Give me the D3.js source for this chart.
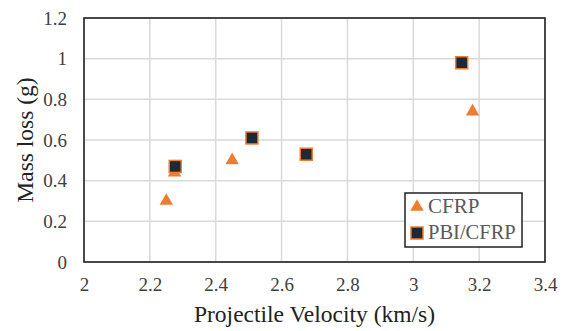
<!DOCTYPE html>
<meta charset="utf-8">
<script src="https://d3js.org/d3.v7.min.js"></script>
<style>
  body { margin: 0; background: #fff; }
  text { font-family: "Liberation Serif", "Times New Roman", serif; }
</style>
<div id="chart"></div>
<script>
// data
var cfrpX = [2.25, 2.275, 2.45, 3.18];
var cfrpY = [0.30, 0.44, 0.50, 0.74];
var pbiX = [2.277, 2.51, 2.675, 3.147];
var pbiY = [0.47, 0.61, 0.53, 0.98];
var xTicks = [2, 2.2, 2.4, 2.6, 2.8, 3, 3.2, 3.4];
var yTicks = [0, 0.2, 0.4, 0.6, 0.8, 1, 1.2];

var W = 570, H = 331;
var margin = {top: 18, right: 25, bottom: 69, left: 84};
var width = W - margin.left - margin.right;
var height = H - margin.top - margin.bottom;

var svg = d3.select("#chart").append("svg")
  .attr("width", W).attr("height", H)
  .append("g")
  .attr("transform", "translate(" + margin.left + "," + margin.top + ")");

var x = d3.scaleLinear().domain([2, 3.4]).range([0, width]);
var y = d3.scaleLinear().domain([0, 1.2]).range([height, 0]);

// gridlines
svg.append("g").selectAll("line").data(xTicks).enter().append("line")
  .attr("x1", d => x(d)).attr("x2", d => x(d))
  .attr("y1", 0).attr("y2", height)
  .style("stroke", "#d9d9d9").style("stroke-width", 1.5);
svg.append("g").selectAll("line").data(yTicks).enter().append("line")
  .attr("x1", 0).attr("x2", width)
  .attr("y1", d => y(d)).attr("y2", d => y(d))
  .style("stroke", "#d9d9d9").style("stroke-width", 1.5);

// axes (labels only)
var xAxis = svg.append("g")
  .attr("transform", "translate(0," + height + ")")
  .call(d3.axisBottom(x).tickValues(xTicks).tickSize(0).tickPadding(16).tickFormat(d3.format("")));
var yAxis = svg.append("g")
  .call(d3.axisLeft(y).tickValues(yTicks).tickSize(0).tickPadding(17).tickFormat(d3.format("")));
[xAxis, yAxis].forEach(function(a) {
  a.select(".domain").remove();
  a.selectAll("text").style("font-size", "19px").style("fill", "#404040")
    .style("font-family", "'Liberation Serif', serif");
});

// frame
svg.append("rect")
  .attr("width", width).attr("height", height)
  .style("fill", "none").style("stroke", "#222").style("stroke-width", 1.6);

var triangle = d3.symbol().type(d3.symbolTriangle).size(78);

// CFRP
svg.selectAll(".cfrp").data(cfrpX).enter().append("path")
  .attr("class", "cfrp")
  .attr("d", triangle)
  .attr("transform", (d, i) => "translate(" + x(d) + "," + y(cfrpY[i]) + ")")
  .style("fill", "#ed7d31");

// PBI/CFRP
svg.selectAll(".pbi").data(pbiX).enter().append("rect")
  .attr("class", "pbi")
  .attr("x", d => x(d) - 6)
  .attr("y", (d, i) => y(pbiY[i]) - 6)
  .attr("width", 12).attr("height", 12)
  .style("fill", "#1e2938").style("stroke", "#ed7d31").style("stroke-width", 1.5);

// axis titles
svg.append("text")
  .attr("x", width / 2).attr("y", height + 60)
  .attr("text-anchor", "middle")
  .style("font-size", "23.5px").style("fill", "#222")
  .text("Projectile Velocity (km/s)");
svg.append("text")
  .attr("transform", "translate(" + (-51) + "," + (height / 2) + ") rotate(-90)")
  .attr("text-anchor", "middle")
  .style("font-size", "23.5px").style("fill", "#222")
  .text("Mass loss (g)");

// legend
var lg = svg.append("g").attr("transform", "translate(" + (405 - margin.left) + "," + (193 - margin.top) + ")");
lg.append("rect").attr("width", 117).attr("height", 54)
  .style("fill", "#fff").style("stroke", "#222").style("stroke-width", 1.5);
lg.append("path").attr("d", triangle)
  .attr("transform", "translate(12,14)").style("fill", "#ed7d31");
lg.append("rect").attr("x", 6).attr("y", 34).attr("width", 12).attr("height", 12)
  .style("fill", "#1e2938").style("stroke", "#ed7d31").style("stroke-width", 1.5);
lg.append("text").attr("x", 23).attr("y", 20).text("CFRP")
  .style("font-size", "21px").style("fill", "#595959");
lg.append("text").attr("x", 23).attr("y", 46).text("PBI/CFRP")
  .style("font-size", "20.5px").style("fill", "#595959");
</script>
